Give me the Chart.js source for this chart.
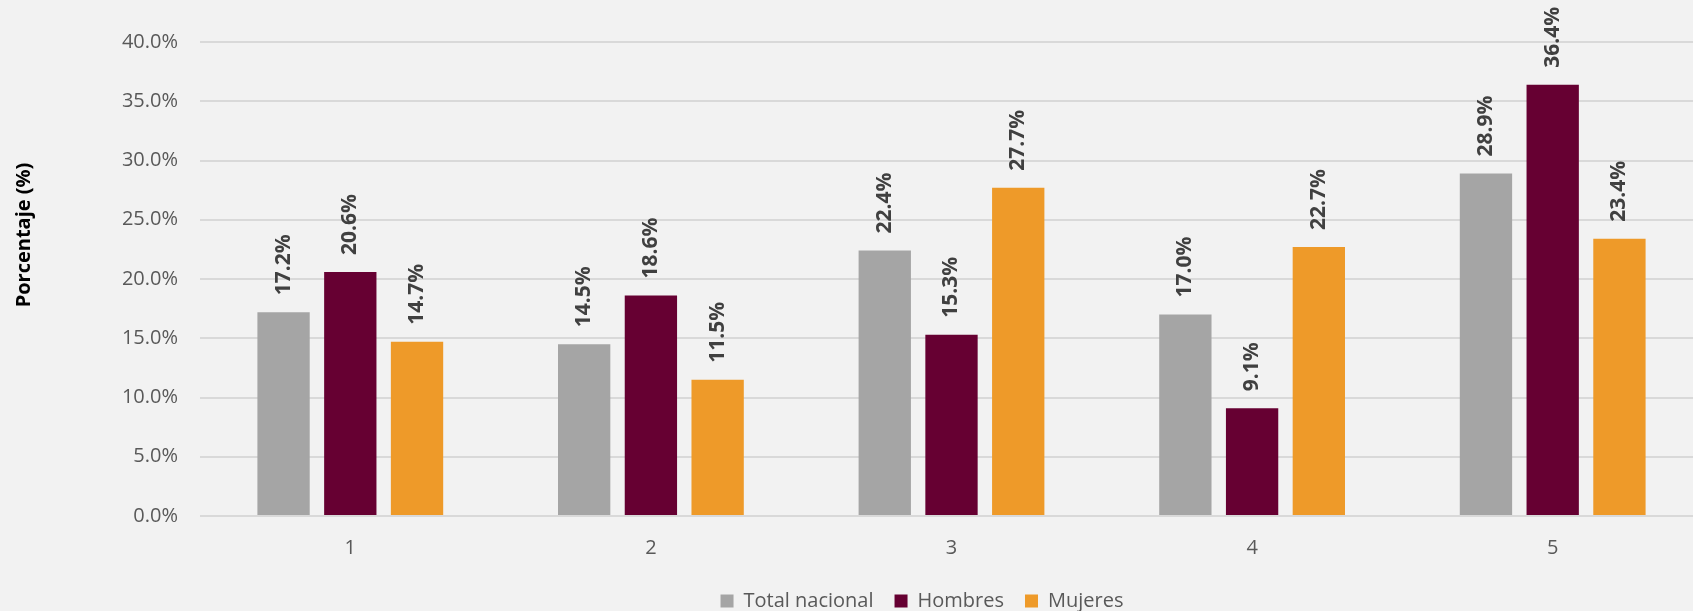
<!DOCTYPE html>
<html>
<head>
<meta charset="utf-8">
<script src="https://cdn.jsdelivr.net/npm/chart.js@4"></script>
<style>
  html, body { margin: 0; padding: 0; background: #f2f2f2; overflow: hidden; }
  /* plot area runs a bit past the right edge of the picture, as in the original */
  #wrap { width: 1713px; height: 611px; }
</style>
</head>
<body>
<div id="wrap"><canvas id="chart"></canvas></div>
<script>
const categories = ['1', '2', '3', '4', '5'];
const totalNacional = [17.2, 14.5, 22.4, 17.0, 28.9];
const hombres = [20.6, 18.6, 15.3, 9.1, 36.4];
const mujeres = [14.7, 11.5, 27.7, 22.7, 23.4];
const yTicks = [0, 5, 10, 15, 20, 25, 30, 35, 40];

const FONT = "'Open Sans', 'Noto Sans', sans-serif";

// rotated value labels above each bar
const barLabels = {
  id: 'barLabels',
  afterDatasetsDraw(chart) {
    const ctx = chart.ctx;
    ctx.save();
    ctx.font = 'bold 21px ' + FONT;
    ctx.fillStyle = '#404040';
    ctx.textAlign = 'left';
    ctx.textBaseline = 'middle';
    chart.data.datasets.forEach((ds, i) => {
      chart.getDatasetMeta(i).data.forEach((bar, j) => {
        ctx.save();
        ctx.translate(bar.x, bar.y - 17);
        ctx.rotate(-Math.PI / 2);
        ctx.fillText(ds.data[j].toFixed(1) + '%', 0, 0);
        ctx.restore();
      });
    });
    ctx.restore();
  }
};

// y axis title, placed like the original
const yTitle = {
  id: 'yTitle',
  afterDraw(chart) {
    const ctx = chart.ctx;
    ctx.save();
    ctx.font = 'bold 20px ' + FONT;
    ctx.fillStyle = '#000000';
    ctx.textAlign = 'center';
    ctx.textBaseline = 'middle';
    ctx.translate(24, 235);
    ctx.rotate(-Math.PI / 2);
    ctx.fillText('Porcentaje (%)', 0, 0);
    ctx.restore();
  }
};

// the legend in the original sits right of centre
const legendShift = {
  id: 'legendShift',
  afterLayout(chart) {
    const lg = chart.legend;
    const dx = 922 - (lg.left + lg.right) / 2;
    lg.left += dx;
    lg.right += dx;
  }
};

new Chart(document.getElementById('chart'), {
  type: 'bar',
  data: {
    labels: categories,
    datasets: [
      { label: 'Total nacional', data: totalNacional, backgroundColor: '#a5a5a5' },
      { label: 'Hombres', data: hombres, backgroundColor: '#660032' },
      { label: 'Mujeres', data: mujeres, backgroundColor: '#ee9a29' }
    ]
  },
  options: {
    responsive: true,
    maintainAspectRatio: false,
    animation: false,
    categoryPercentage: 0.666,
    barPercentage: 0.784,
    layout: { padding: { top: 42, right: 10, left: 0, bottom: -10 } },
    plugins: {
      legend: {
        position: 'bottom',
        labels: {
          boxWidth: 13,
          boxHeight: 13,
          padding: 21,
          color: '#595959',
          font: { family: FONT, size: 20 }
        }
      },
      tooltip: { enabled: false }
    },
    scales: {
      x: {
        grid: { display: false, drawTicks: false },
        border: { display: false },
        ticks: { color: '#595959', padding: 20, font: { family: FONT, size: 20 } },
        afterFit(scale) { scale.height = 54; }
      },
      y: {
        min: 0,
        max: 40,
        afterBuildTicks(scale) { scale.ticks = yTicks.map(v => ({ value: v })); },
        afterFit(scale) { scale.width = 200; },
        grid: { color: '#d9d9d9', lineWidth: 2, drawTicks: false },
        border: { display: false },
        ticks: {
          color: '#595959',
          padding: 22,
          font: { family: FONT, size: 20 },
          callback: v => v.toFixed(1) + '%'
        }
      }
    }
  },
  plugins: [barLabels, yTitle, legendShift]
});
</script>
</body>
</html>
